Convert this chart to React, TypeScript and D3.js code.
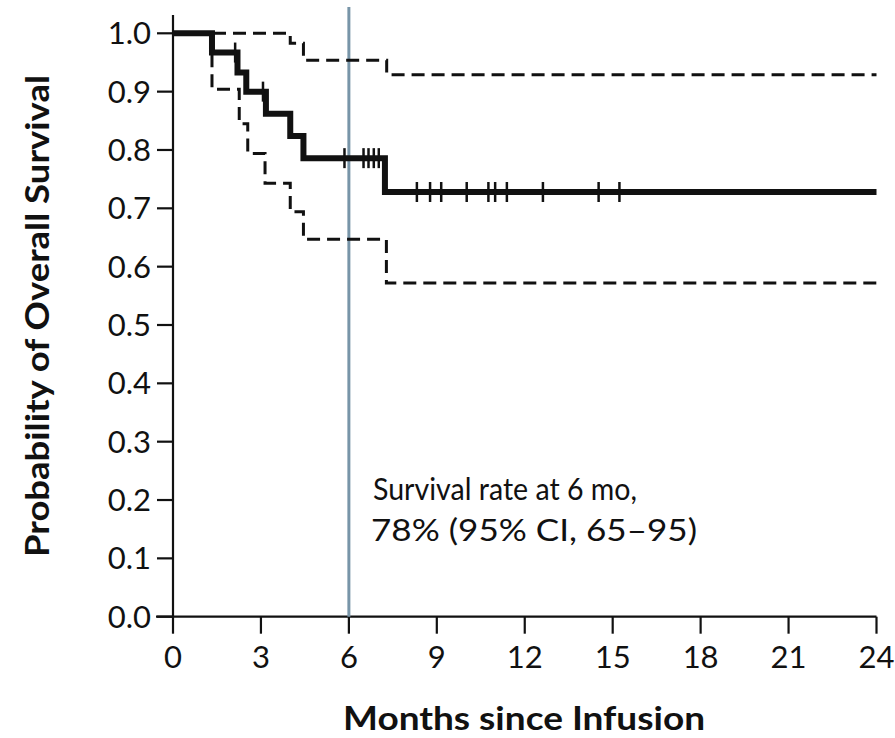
import React from "react";
import * as d3 from "d3";

// Kaplan-Meier estimate (months, survival probability)
const survTimes = [0, 1.33, 2.2, 2.5, 3.17, 4.0, 4.45, 7.23, 24];
const survValues = [1.0, 0.967, 0.933, 0.9, 0.862, 0.824, 0.786, 0.728, 0.728];

// 95% CI upper
const upperTimes = [0, 4.0, 4.45, 7.29, 24];
const upperValues = [1.0, 0.983, 0.954, 0.929, 0.929];

// 95% CI lower
const lowerTimes = [0, 1.33, 2.26, 2.55, 3.14, 4.0, 4.45, 7.28, 24];
const lowerValues = [1.0, 0.904, 0.845, 0.794, 0.743, 0.694, 0.647, 0.572, 0.572];

// censored observations (months)
const censorTimes = [2.12, 3.07, 5.85, 6.5, 6.67, 6.85, 7.02, 8.32, 8.77, 9.15, 10.02, 10.76, 10.99, 11.39, 12.62, 14.52, 15.23];

const xTicks = [0, 3, 6, 9, 12, 15, 18, 21, 24];
const yTicks = [0, 0.1, 0.2, 0.3, 0.4, 0.5, 0.6, 0.7, 0.8, 0.9, 1.0];

const markerTime = 6;
const annotation = ["Survival rate at 6 mo,", "78% (95% CI, 65\u201395)"];
const xTitle = "Months since Infusion";
const yTitle = "Probability of Overall Survival";

const FONT = "Lato, 'Open Sans', sans-serif";
const INK = "#111";

function stepValueAt(times: number[], values: number[], t: number) {
  let v = values[0];
  for (let i = 0; i < times.length; i++) if (times[i] <= t) v = values[i];
  return v;
}

export default function App() {
  const W = 895;
  const H = 738;
  const x = d3.scaleLinear().domain([0, 24]).range([173, 876.5]);
  const y = d3.scaleLinear().domain([0, 1]).range([616.7, 33.3]);

  const line = d3
    .line<[number, number]>()
    .x((d) => x(d[0]))
    .y((d) => y(d[1]))
    .curve(d3.curveStepAfter);

  const survPts = survTimes.map((t, i) => [t, survValues[i]] as [number, number]);
  const upPts = upperTimes.map((t, i) => [t, upperValues[i]] as [number, number]);
  const loPts = lowerTimes.map((t, i) => [t, lowerValues[i]] as [number, number]);

  return (
    <svg width={W} height={H} style={{ position: "absolute", left: 0, top: 0, background: "#fff" }}>
      <rect x={0} y={0} width={W} height={H} fill="#fff" />
      {/* axes */}
      <line x1={x(0)} x2={x(0)} y1={15} y2={y(0)} stroke={INK} strokeWidth={2.2} />
      <line x1={x(0) - 17} x2={x(24)} y1={y(0)} y2={y(0)} stroke={INK} strokeWidth={2.2} />
      {yTicks.map((t) => (
        <g key={"y" + t}>
          <line x1={x(0) - 16} x2={x(0)} y1={y(t)} y2={y(t)} stroke={INK} strokeWidth={2.2} />
          <text x={151} y={y(t) + 11} textAnchor="end" fontFamily={FONT} fontSize={31} fill={INK}>
            {t.toFixed(1)}
          </text>
        </g>
      ))}
      {xTicks.map((t) => (
        <g key={"x" + t}>
          <line x1={x(t)} x2={x(t)} y1={y(0)} y2={y(0) + 17} stroke={INK} strokeWidth={2.2} />
          <text x={x(t)} y={668} textAnchor="middle" fontFamily={FONT} fontSize={31} fill={INK}>
            {t}
          </text>
        </g>
      ))}

      {/* 6-month marker */}
      <line x1={x(markerTime)} x2={x(markerTime)} y1={7} y2={y(0)} stroke="#7895a8" strokeWidth={3} />

      {/* CI */}
      <path d={line(upPts) || ""} fill="none" stroke={INK} strokeWidth={3} strokeDasharray="13 7" />
      <path d={line(loPts) || ""} fill="none" stroke={INK} strokeWidth={3} strokeDasharray="13 7" />

      {/* KM curve */}
      <path d={line(survPts) || ""} fill="none" stroke={INK} strokeWidth={6} strokeLinejoin="miter" />
      {censorTimes.map((t, i) => {
        const v = stepValueAt(survTimes, survValues, t);
        return (
          <line key={"c" + i} x1={x(t)} x2={x(t)} y1={y(v) - 10} y2={y(v) + 10} stroke={INK} strokeWidth={2.5} />
        );
      })}

      {/* annotation */}
      <text x={373} y={500} fontFamily={FONT} fontSize={30} fill={INK} textLength={264} lengthAdjust="spacingAndGlyphs">
        {annotation[0]}
      </text>
      <text x={371} y={541} fontFamily={FONT} fontSize={30} fill={INK} textLength={326} lengthAdjust="spacingAndGlyphs">
        {annotation[1]}
      </text>

      {/* titles */}
      <text x={343} y={730} fontFamily={FONT} fontSize={32} fontWeight="bold" fill={INK} textLength={362} lengthAdjust="spacingAndGlyphs">
        {xTitle}
      </text>
      <text
        transform={`translate(49, 557) rotate(-90)`}
        x={0}
        y={0}
        fontFamily={FONT}
        fontSize={33}
        fontWeight="bold"
        fill={INK}
        textLength={482}
        lengthAdjust="spacingAndGlyphs"
      >
        {yTitle}
      </text>
    </svg>
  );
}
